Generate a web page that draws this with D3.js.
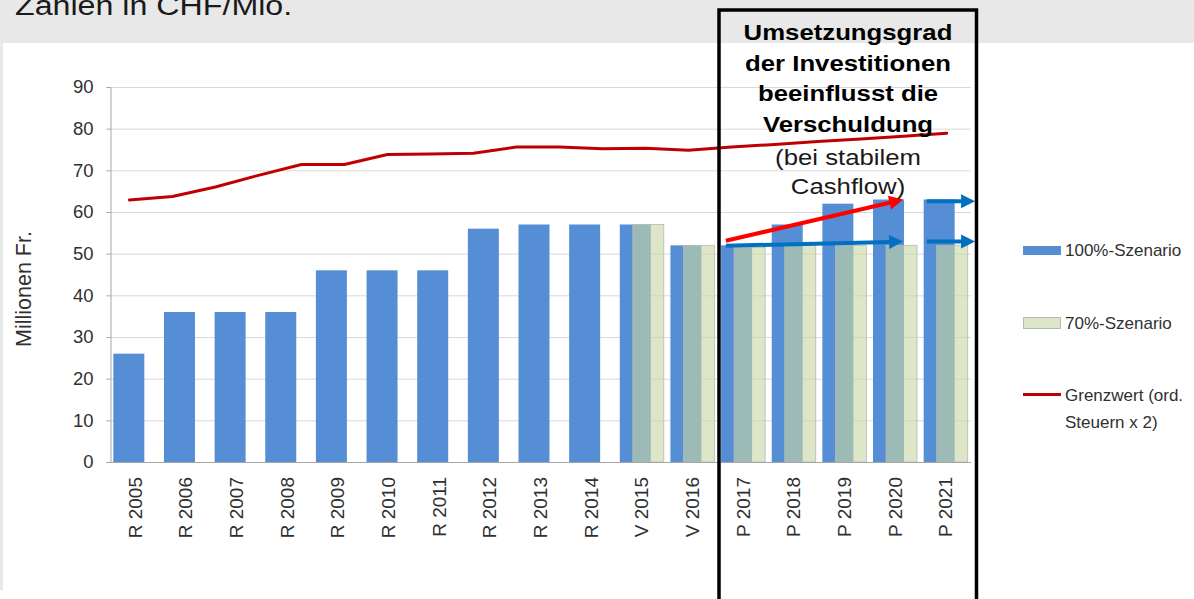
<!DOCTYPE html>
<html>
<head>
<meta charset="utf-8">
<script src="https://cdn.jsdelivr.net/npm/d3@7"></script>
<style>
  html, body { margin: 0; padding: 0; background: #fff; }
  svg { display: block; font-family: "Liberation Sans", Arial, Helvetica, sans-serif; }
</style>
</head>
<body>
<svg id="chart" width="1194" height="599"></svg>
<script>
// ---- data ----
const categories = ["R 2005", "R 2006", "R 2007", "R 2008", "R 2009", "R 2010", "R 2011",
  "R 2012", "R 2013", "R 2014", "V 2015", "V 2016", "P 2017", "P 2018", "P 2019", "P 2020", "P 2021"];
const scenario100 = [26, 36, 36, 36, 46, 46, 46, 56, 57, 57, 57, 52, 52, 57, 62, 63, 63];
const scenario70 = [null, null, null, null, null, null, null, null, null, null, 57, 52, 51.5, 52, 52, 52, 52];
// limit line (ordinary taxes x 2), sampled on its own evenly spaced axis
const limitValues = [62.9, 63.7, 66.0, 68.8, 71.4, 71.4, 73.8, 73.9, 74.1, 75.6,
  75.6, 75.2, 75.3, 74.8, 75.6, 76.2, 76.9, 77.5, 78.2, 78.9];
const yTicks = [0, 10, 20, 30, 40, 50, 60, 70, 80, 90];
const yTitle = "Millionen Fr.";
const headerText = "Zahlen in CHF/Mio.";
const legendLabels = ["100%-Szenario", "70%-Szenario", ["Grenzwert (ord.", "Steuern x 2)"]];
const calloutBold = ["Umsetzungsgrad", "der Investitionen", "beeinflusst die", "Verschuldung"];
const calloutNormal = ["(bei stabilem", "Cashflow)"];
// trend arrows: [category, position within band, value]
const trendArrows = [
  { from: ["P 2017", 0.16, 53.1], to: ["P 2020", 0.66, 63.0], color: "#ff0000" },
  { from: ["P 2017", 0.16, 51.9], to: ["P 2020", 0.66, 52.9], color: "#0070c0" },
  { from: ["P 2021", 0.125, 62.6], to: ["P 2021", 1.08, 62.6], color: "#0070c0" },
  { from: ["P 2021", 0.125, 52.9], to: ["P 2021", 1.08, 52.9], color: "#0070c0" }
];

// ---- layout ----
const W = 1194, H = 599;
const plot = { left: 110, right: 971, top: 87, bottom: 462 };
const colors = {
  blue: "#558ed5", green: "rgb(200,215,163)", greenStroke: "#b8b8b8",
  red: "#c00000", grid: "#d9d9d9", axis: "#a6a6a6", text: "#303030", panel: "#e8e8e8"
};

const svg = d3.select("#chart");

// page background bands
svg.append("rect").attr("x", 0).attr("y", 0).attr("width", W).attr("height", H).attr("fill", "#fff");
svg.append("rect").attr("x", 0).attr("y", 0).attr("width", W).attr("height", 43).attr("fill", colors.panel);
svg.append("rect").attr("x", 0).attr("y", 43).attr("width", 3).attr("height", 547).attr("fill", colors.panel);

// header text (partially clipped at the top edge)
svg.append("g").attr("transform", "translate(15,15) scale(1.15,1)")
  .append("text").attr("font-size", 28).attr("fill", "#1a1a1a").text(headerText);

// ---- scales ----
const x = d3.scaleBand().domain(categories).range([plot.left, plot.right]);
const bw = x.bandwidth();
const barW = bw * 0.612;
const shift = bw * 0.257;
const y = d3.scaleLinear().domain([0, 90]).range([plot.bottom, plot.top]);
const limitX = d3.scaleLinear().domain([0, limitValues.length - 1])
  .range([x(categories[0]) + bw / 2 - 6, x(categories[categories.length - 1]) + bw / 2 + 1]);

// gridlines
svg.append("g").selectAll("line").data(yTicks.filter(d => d > 0)).join("line")
  .attr("x1", plot.left).attr("x2", plot.right)
  .attr("y1", d => y(d) + 0.5).attr("y2", d => y(d) + 0.5)
  .attr("stroke", colors.grid).attr("stroke-width", 1);

// y axis
const yAxis = d3.axisLeft(y).tickValues(yTicks).tickSize(4).tickPadding(13);
const yg = svg.append("g").attr("transform", `translate(${plot.left + 0.5},0)`).call(yAxis);
yg.select(".domain").attr("stroke", colors.axis);
yg.selectAll(".tick line").attr("stroke", colors.axis);
yg.selectAll(".tick text").attr("font-size", 18.5).attr("fill", colors.text)
  .attr("font-family", "Liberation Sans, Arial, sans-serif");

svg.append("text")
  .attr("transform", "translate(31,289) rotate(-90)")
  .attr("text-anchor", "middle").attr("font-size", 21.5).attr("fill", colors.text)
  .text(yTitle);

// bars: 100% scenario
const groupLeft = c => x(c) + bw / 2 - (barW + shift) / 2;
svg.append("g").selectAll("rect")
  .data(categories.map((c, i) => ({ c, v: scenario100[i] })).filter(d => d.v != null))
  .join("rect")
  .attr("x", d => groupLeft(d.c)).attr("width", barW)
  .attr("y", d => y(d.v)).attr("height", d => y(0) - y(d.v))
  .attr("fill", colors.blue);

// bars: 70% scenario (semi-transparent, overlapping)
svg.append("g").selectAll("rect")
  .data(categories.map((c, i) => ({ c, v: scenario70[i] })).filter(d => d.v != null))
  .join("rect")
  .attr("x", d => groupLeft(d.c) + shift).attr("width", barW)
  .attr("y", d => y(d.v)).attr("height", d => y(0) - y(d.v))
  .attr("fill", colors.green).attr("fill-opacity", 0.62)
  .attr("stroke", colors.greenStroke).attr("stroke-width", 0.8);

// x axis line
svg.append("line").attr("x1", plot.left).attr("x2", plot.right)
  .attr("y1", plot.bottom + 0.5).attr("y2", plot.bottom + 0.5)
  .attr("stroke", colors.axis).attr("stroke-width", 1);

// category labels, rotated
svg.append("g").selectAll("text").data(categories).join("text")
  .attr("transform", d => `translate(${x(d) + bw / 2},477) rotate(-90)`)
  .attr("text-anchor", "end").attr("dominant-baseline", "central")
  .attr("font-size", 19).attr("fill", colors.text)
  .text(d => d);

// limit line
const line = d3.line().x((d, i) => limitX(i)).y(d => y(d));
svg.append("path").datum(limitValues)
  .attr("d", line).attr("fill", "none")
  .attr("stroke", colors.red).attr("stroke-width", 3)
  .attr("stroke-linejoin", "round").attr("stroke-linecap", "round");

// trend arrows
const ax = ([c, p]) => x(c) + p * bw;
trendArrows.forEach(a => {
  const x1 = ax(a.from), y1 = y(a.from[2]);
  const x2 = ax(a.to), y2 = y(a.to[2]);
  const len = Math.hypot(x2 - x1, y2 - y1);
  const ux = (x2 - x1) / len, uy = (y2 - y1) / len;
  const head = 14, half = 7;
  const bx = x2 - ux * head, by = y2 - uy * head;
  svg.append("line").attr("x1", x1).attr("y1", y1).attr("x2", bx + ux).attr("y2", by + uy)
    .attr("stroke", a.color).attr("stroke-width", 4);
  svg.append("path")
    .attr("d", `M${x2},${y2}L${bx - uy * half},${by + ux * half}L${bx + uy * half},${by - ux * half}Z`)
    .attr("fill", a.color);
});

// callout text
const cx = 848;
const boldBase = [40, 70.5, 101, 131.5];
calloutBold.forEach((t, i) => {
  svg.append("g").attr("transform", `translate(${cx},${boldBase[i]}) scale(1.17,1)`)
    .append("text").attr("text-anchor", "middle").attr("font-size", 22)
    .attr("font-weight", "bold").attr("fill", "#000").text(t);
});
const normalBase = [165, 194];
calloutNormal.forEach((t, i) => {
  svg.append("g").attr("transform", `translate(${cx},${normalBase[i]}) scale(1.17,1)`)
    .append("text").attr("text-anchor", "middle").attr("font-size", 22)
    .attr("fill", "#1a1a1a").text(t);
});

// callout frame
svg.append("rect").attr("x", 719).attr("y", 10).attr("width", 257.5).attr("height", 620)
  .attr("fill", "none").attr("stroke", "#000").attr("stroke-width", 3.5);

// legend
const lg = svg.append("g");
lg.append("rect").attr("x", 1023).attr("y", 246).attr("width", 38).attr("height", 9).attr("fill", colors.blue);
lg.append("text").attr("x", 1065).attr("y", 250.5).attr("dominant-baseline", "central")
  .attr("font-size", 17).attr("fill", colors.text).text(legendLabels[0]);
lg.append("rect").attr("x", 1023.5).attr("y", 317.5).attr("width", 37).attr("height", 11)
  .attr("fill", colors.green).attr("fill-opacity", 0.62).attr("stroke", colors.greenStroke);
lg.append("text").attr("x", 1065).attr("y", 323).attr("dominant-baseline", "central")
  .attr("font-size", 17).attr("fill", colors.text).text(legendLabels[1]);
lg.append("line").attr("x1", 1023).attr("x2", 1061).attr("y1", 394.5).attr("y2", 394.5)
  .attr("stroke", colors.red).attr("stroke-width", 3);
legendLabels[2].forEach((t, i) => {
  lg.append("text").attr("x", 1065).attr("y", 395 + i * 27).attr("dominant-baseline", "central")
    .attr("font-size", 17).attr("fill", colors.text).text(t);
});
</script>
</body>
</html>
